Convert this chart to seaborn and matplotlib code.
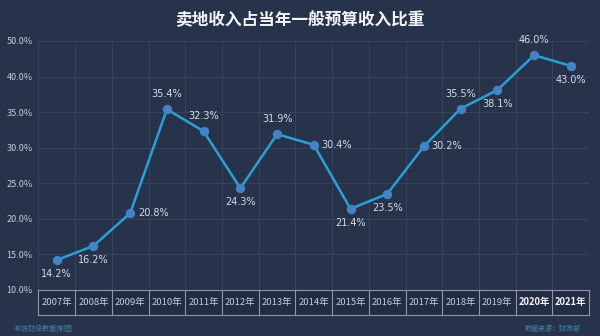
import matplotlib
matplotlib.use("Agg")
import matplotlib.pyplot as plt
import numpy as np
import pandas as pd
import seaborn as sns

years = ["2007年", "2008年", "2009年", "2010年", "2011年", "2012年", "2013年", "2014年",
         "2015年", "2016年", "2017年", "2018年", "2019年", "2020年", "2021年"]
ratio = [14.2, 16.2, 20.8, 35.4, 32.3, 24.3, 31.9, 30.4, 21.4, 23.5, 30.2, 35.5, 38.1, 46.0, 43.0]
label_pos = ["below", "below", "right", "above", "above", "below", "above", "right",
             "below", "below", "right", "above", "below", "above", "below"]
y_ticks = [10, 15, 20, 25, 30, 35, 40, 50]
title = "卖地收入占当年一般预算收入比重"

BG = "#27334b"
sns.set_theme(style="dark")
plt.rcParams["font.family"] = ["Noto Sans CJK SC", "DejaVu Sans"]

# axis as printed: evenly spaced ticks 10..40 then 50
def fwd(y):
    y = np.asarray(y, dtype=float)
    return np.where(y <= 40, y, 40 + (y - 40) / 2.0)

def inv(y):
    y = np.asarray(y, dtype=float)
    return np.where(y <= 40, y, 40 + (y - 40) * 2.0)

fig = plt.figure(figsize=(6.0, 3.36), dpi=100, facecolor=BG)
ax = fig.add_axes([0.064, 0.137, 0.918, 0.741], facecolor=BG)

df = pd.DataFrame({"idx": np.arange(len(years)), "ratio": ratio})
sns.lineplot(data=df, x="idx", y="ratio", ax=ax, color="#2b9fd8", linewidth=1.8,
             marker="o", markersize=6, markerfacecolor="#4383c6",
             markeredgecolor="#4383c6", zorder=3, clip_on=False)

ax.set_yscale("function", functions=(fwd, inv))
ax.set_ylim(10, 50)
ax.set_xlim(-0.5, len(years) - 0.5)
ax.set_yticks(y_ticks)
ax.set_yticklabels([f"{v:.1f}%" for v in y_ticks], color="#c5ccd8", fontsize=6.5)
ax.set_xticks(np.arange(-0.5, len(years), 1.0))
ax.set_xticklabels([])
ax.tick_params(axis="both", length=0, pad=4)
ax.grid(True, color="#38455e", linewidth=0.6)
ax.set_xlabel("")
ax.set_ylabel("")
for s in ax.spines.values():
    s.set_visible(False)

offsets = {"below": (0, -14, "center", "center"),
           "above": (0, 15, "center", "center"),
           "right": (23, 0, "center", "center")}
for i, (v, p) in enumerate(zip(ratio, label_pos)):
    dx, dy, ha, va = offsets[p]
    ax.annotate(f"{v:.1f}%", (i, v), xytext=(dx, dy), textcoords="offset pixels",
                ha=ha, va=va, fontsize=7, color="#d5dbe5",
                family=["DejaVu Sans"], annotation_clip=False)

# category table below the plot
tax = fig.add_axes([0.064, 0.0625, 0.918, 0.0745], facecolor="#222c42")
tax.set_xlim(-0.5, len(years) - 0.5)
tax.set_ylim(0, 1)
tax.set_xticks([])
tax.set_yticks([])
for s in tax.spines.values():
    s.set_color("#8c97aa")
    s.set_linewidth(0.8)
for b in np.arange(0.5, len(years) - 1, 1.0):
    tax.axvline(b, color="#8c97aa", linewidth=0.8)
for i, yl in enumerate(years):
    bold = i >= len(years) - 2
    tax.text(i, 0.5, yl, ha="center", va="center", fontsize=6.8,
             color="#f2f4f8" if bold else "#c5ccd8",
             fontweight="bold" if bold else "normal")

fig.text(0.5, 0.94, title, ha="center", va="center", fontsize=12,
         fontweight="bold", color="#f2f4f8")
fig.text(0.025, 0.022, "新浪财经数据|制图", ha="left", va="center", fontsize=5,
         color="#3f86a8")
fig.text(0.968, 0.022, "数据来源：财政部", ha="right", va="center", fontsize=5,
         color="#3f86a8")

fig.savefig("out.png", dpi=100, facecolor=BG)
